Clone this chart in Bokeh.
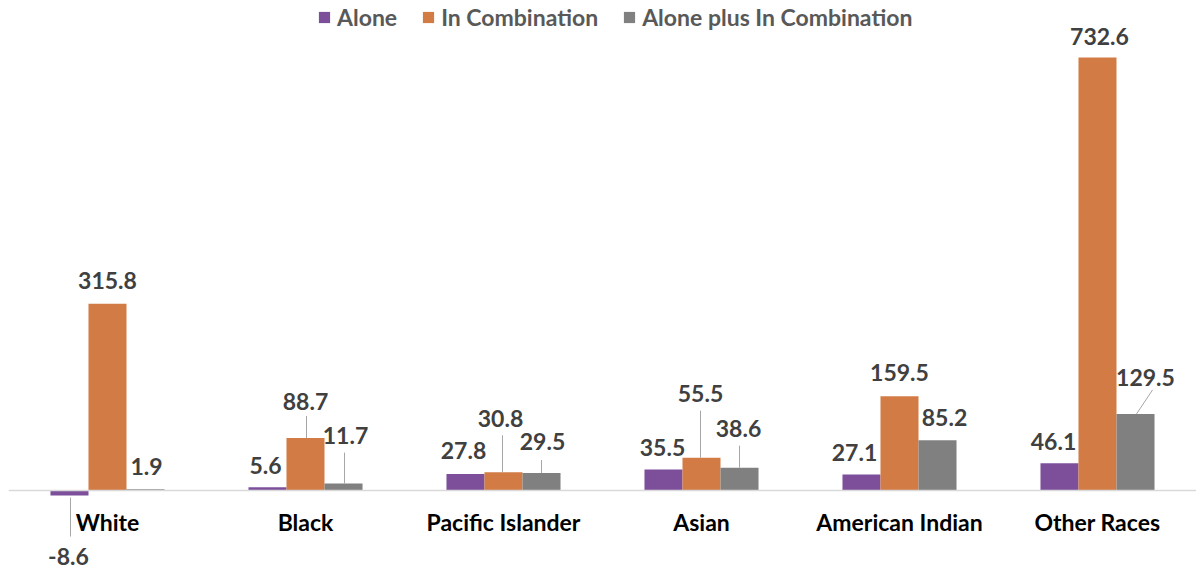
from bokeh.plotting import figure
from bokeh.models import ColumnDataSource, Range1d, Span, Legend, LegendItem
from bokeh.transform import dodge
from bokeh.core.properties import value
from bokeh.embed import file_html
from bokeh.resources import INLINE

# ---- data -------------------------------------------------------------
categories = ["White", "Black", "Pacific Islander", "Asian", "American Indian", "Other Races"]
series = ["Alone", "In Combination", "Alone plus In Combination"]
alone = [-8.6, 5.6, 27.8, 35.5, 27.1, 46.1]
in_combination = [315.8, 88.7, 30.8, 55.5, 159.5, 732.6]
alone_plus_combination = [1.9, 11.7, 29.5, 38.6, 85.2, 129.5]
values = [alone, in_combination, alone_plus_combination]

# ---- styling / placement ---------------------------------------------
colors = ["#7D4F9B", "#D27B44", "#808080"]
FONT = "Lato"
W, H = 1196, 571
LEFT = 8
Y0, Y1 = -137.1, 829.1
BAR_W = 0.192
offsets = [-BAR_W, 0.0, BAR_W]

# label offsets in pixels from the end of each bar (dx right, dy down)
label_dx = [[-1, -2, -2, -1, -7, -6],
            [0, 0, -3, -1, 0, 2],
            [1, 2, 1, -1, 7, 10]]
label_dy = [[61, -22, -24, -22, -22, -22],
            [-23, -37, -54, -64, -24, -21],
            [-23, -48, -32, -39, -23, -36]]

# leader lines: (series, category, dx0, dy0, dx1, dy1) in px from bar end
leaders = [(0, 0, 1, 2, 1, 41),
           (1, 1, 1, 0, 1, -22),
           (2, 1, 1, 0, 1, -31),
           (1, 2, -1, 0, -1, -37),
           (2, 2, 0, 0, 0, -13),
           (1, 3, -1, 0, -1, -47),
           (2, 3, 0, 0, 0, -22),
           (2, 5, 1, 0, 17, -24)]

p = figure(x_range=categories, y_range=Range1d(Y0, Y1),
           width=W, height=H, output_backend="svg", toolbar_location=None,
           x_axis_location=None, y_axis_location=None,
           min_border_left=LEFT, min_border_right=0,
           min_border_top=0, min_border_bottom=0)
p.x_range.range_padding = 0
p.x_range.factor_padding = 0
p.outline_line_color = None
p.xgrid.visible = False
p.ygrid.visible = False
p.background_fill_color = "white"
p.border_fill_color = "white"

frame_w = W - LEFT
px_x = 1.0 / (frame_w / len(categories))   # factor units per pixel
px_y = (Y1 - Y0) / H                         # data units per pixel

src = ColumnDataSource(dict(cat=categories, a=alone, c=in_combination, g=alone_plus_combination))
fields = ["a", "c", "g"]

bars = []
for k in range(3):
    r = p.vbar(x=dodge("cat", offsets[k], range=p.x_range), top=fields[k], bottom=0,
               width=BAR_W, source=src, fill_color=colors[k], line_color=None)
    bars.append(r)

# baseline
p.add_layout(Span(location=0, dimension="width", line_color="#D9D9D9", line_width=1.5))

# leader lines
for s, c, dx0, dy0, dx1, dy1 in leaders:
    v = values[s][c]
    lsrc = ColumnDataSource(dict(cat=[categories[c]], y0=[v - dy0 * px_y], y1=[v - dy1 * px_y]))
    p.segment(x0=dodge("cat", offsets[s] + dx0 * px_x, range=p.x_range), y0="y0",
              x1=dodge("cat", offsets[s] + dx1 * px_x, range=p.x_range), y1="y1",
              source=lsrc, line_color="#A6A6A6", line_width=1)

# value labels
for k in range(3):
    lab = ColumnDataSource(dict(cat=categories, v=values[k],
                                t=["%.1f" % x for x in values[k]],
                                dx=label_dx[k], dy=label_dy[k]))
    p.text(x=dodge("cat", offsets[k], range=p.x_range), y="v", text="t",
           x_offset="dx", y_offset="dy", source=lab,
           text_align="center", text_baseline="middle",
           text_font=value(FONT), text_font_style="bold",
           text_font_size="23px", text_color="#404040")

# category labels
cl = ColumnDataSource(dict(cat=categories, y=[0] * len(categories)))
p.text(x="cat", y="y", text="cat", y_offset=32, source=cl,
       text_align="center", text_baseline="middle",
       text_font=value(FONT), text_font_style="bold",
       text_font_size="23px", text_color="#000000")

legend = Legend(items=[LegendItem(label=series[k], renderers=[bars[k]]) for k in range(3)],
                orientation="horizontal", location=(309, 539),
                glyph_width=14, glyph_height=14, label_standoff=6, spacing=24,
                padding=0, margin=0, border_line_color=None,
                background_fill_alpha=0, label_height=30,
                label_text_font=FONT, label_text_font_style="bold",
                label_text_font_size="23px", label_text_color="#595959")
p.add_layout(legend, "center")

open("out.html", "w").write(file_html(p, INLINE))
